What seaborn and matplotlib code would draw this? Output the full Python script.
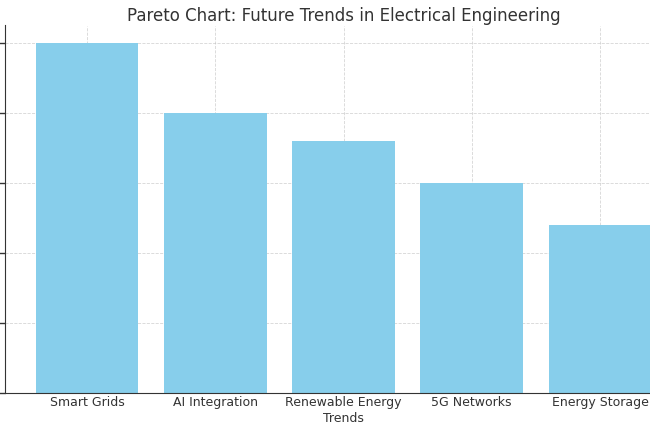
import matplotlib
matplotlib.use("Agg")
import matplotlib.pyplot as plt
import seaborn as sns
import pandas as pd

# Chart data
trends = ["Smart Grids", "AI Integration", "Renewable Energy", "5G Networks", "Energy Storage"]
impact = [25, 20, 18, 15, 12]

df = pd.DataFrame({"Trends": trends, "Impact": impact})

sns.set_style("white")
plt.rcParams["text.color"] = "#333333"
plt.rcParams["axes.labelcolor"] = "#333333"
plt.rcParams["xtick.color"] = "#333333"
plt.rcParams["ytick.color"] = "#333333"

fig = plt.figure(figsize=(6.5, 4.33), dpi=100)
# axes extend past the right edge, like the cropped original
ax = fig.add_axes([5 / 650, 40 / 433, 677 / 650, 367.5 / 433])

sns.barplot(data=df, x="Trends", y="Impact", color="skyblue", saturation=1,
            width=0.8, linewidth=0, ax=ax, zorder=1)
ax.set_xlim(-0.64, 4.64)
ax.set_ylim(0, 26.25)
ax.set_yticks([0, 5, 10, 15, 20, 25])
ax.set_yticklabels([])
ax.set_ylabel("")
ax.set_xlabel("Trends", fontsize=9, labelpad=2)
ax.tick_params(axis="x", labelsize=9, length=4, width=1, direction="in",
               pad=2, color="#333333", bottom=True)
ax.tick_params(axis="y", length=4, width=1, color="#333333", left=True)
ax.grid(True, linestyle="--", linewidth=0.6, color="#bbbbbb", alpha=0.6, zorder=3)
for s in ["top", "right"]:
    ax.spines[s].set_visible(False)
for s in ["left", "bottom"]:
    ax.spines[s].set_color("#333333")
    ax.spines[s].set_zorder(4)
ax.set_title("Pareto Chart: Future Trends in Electrical Engineering", fontsize=12, pad=3)

fig.savefig("out.png", dpi=100)
